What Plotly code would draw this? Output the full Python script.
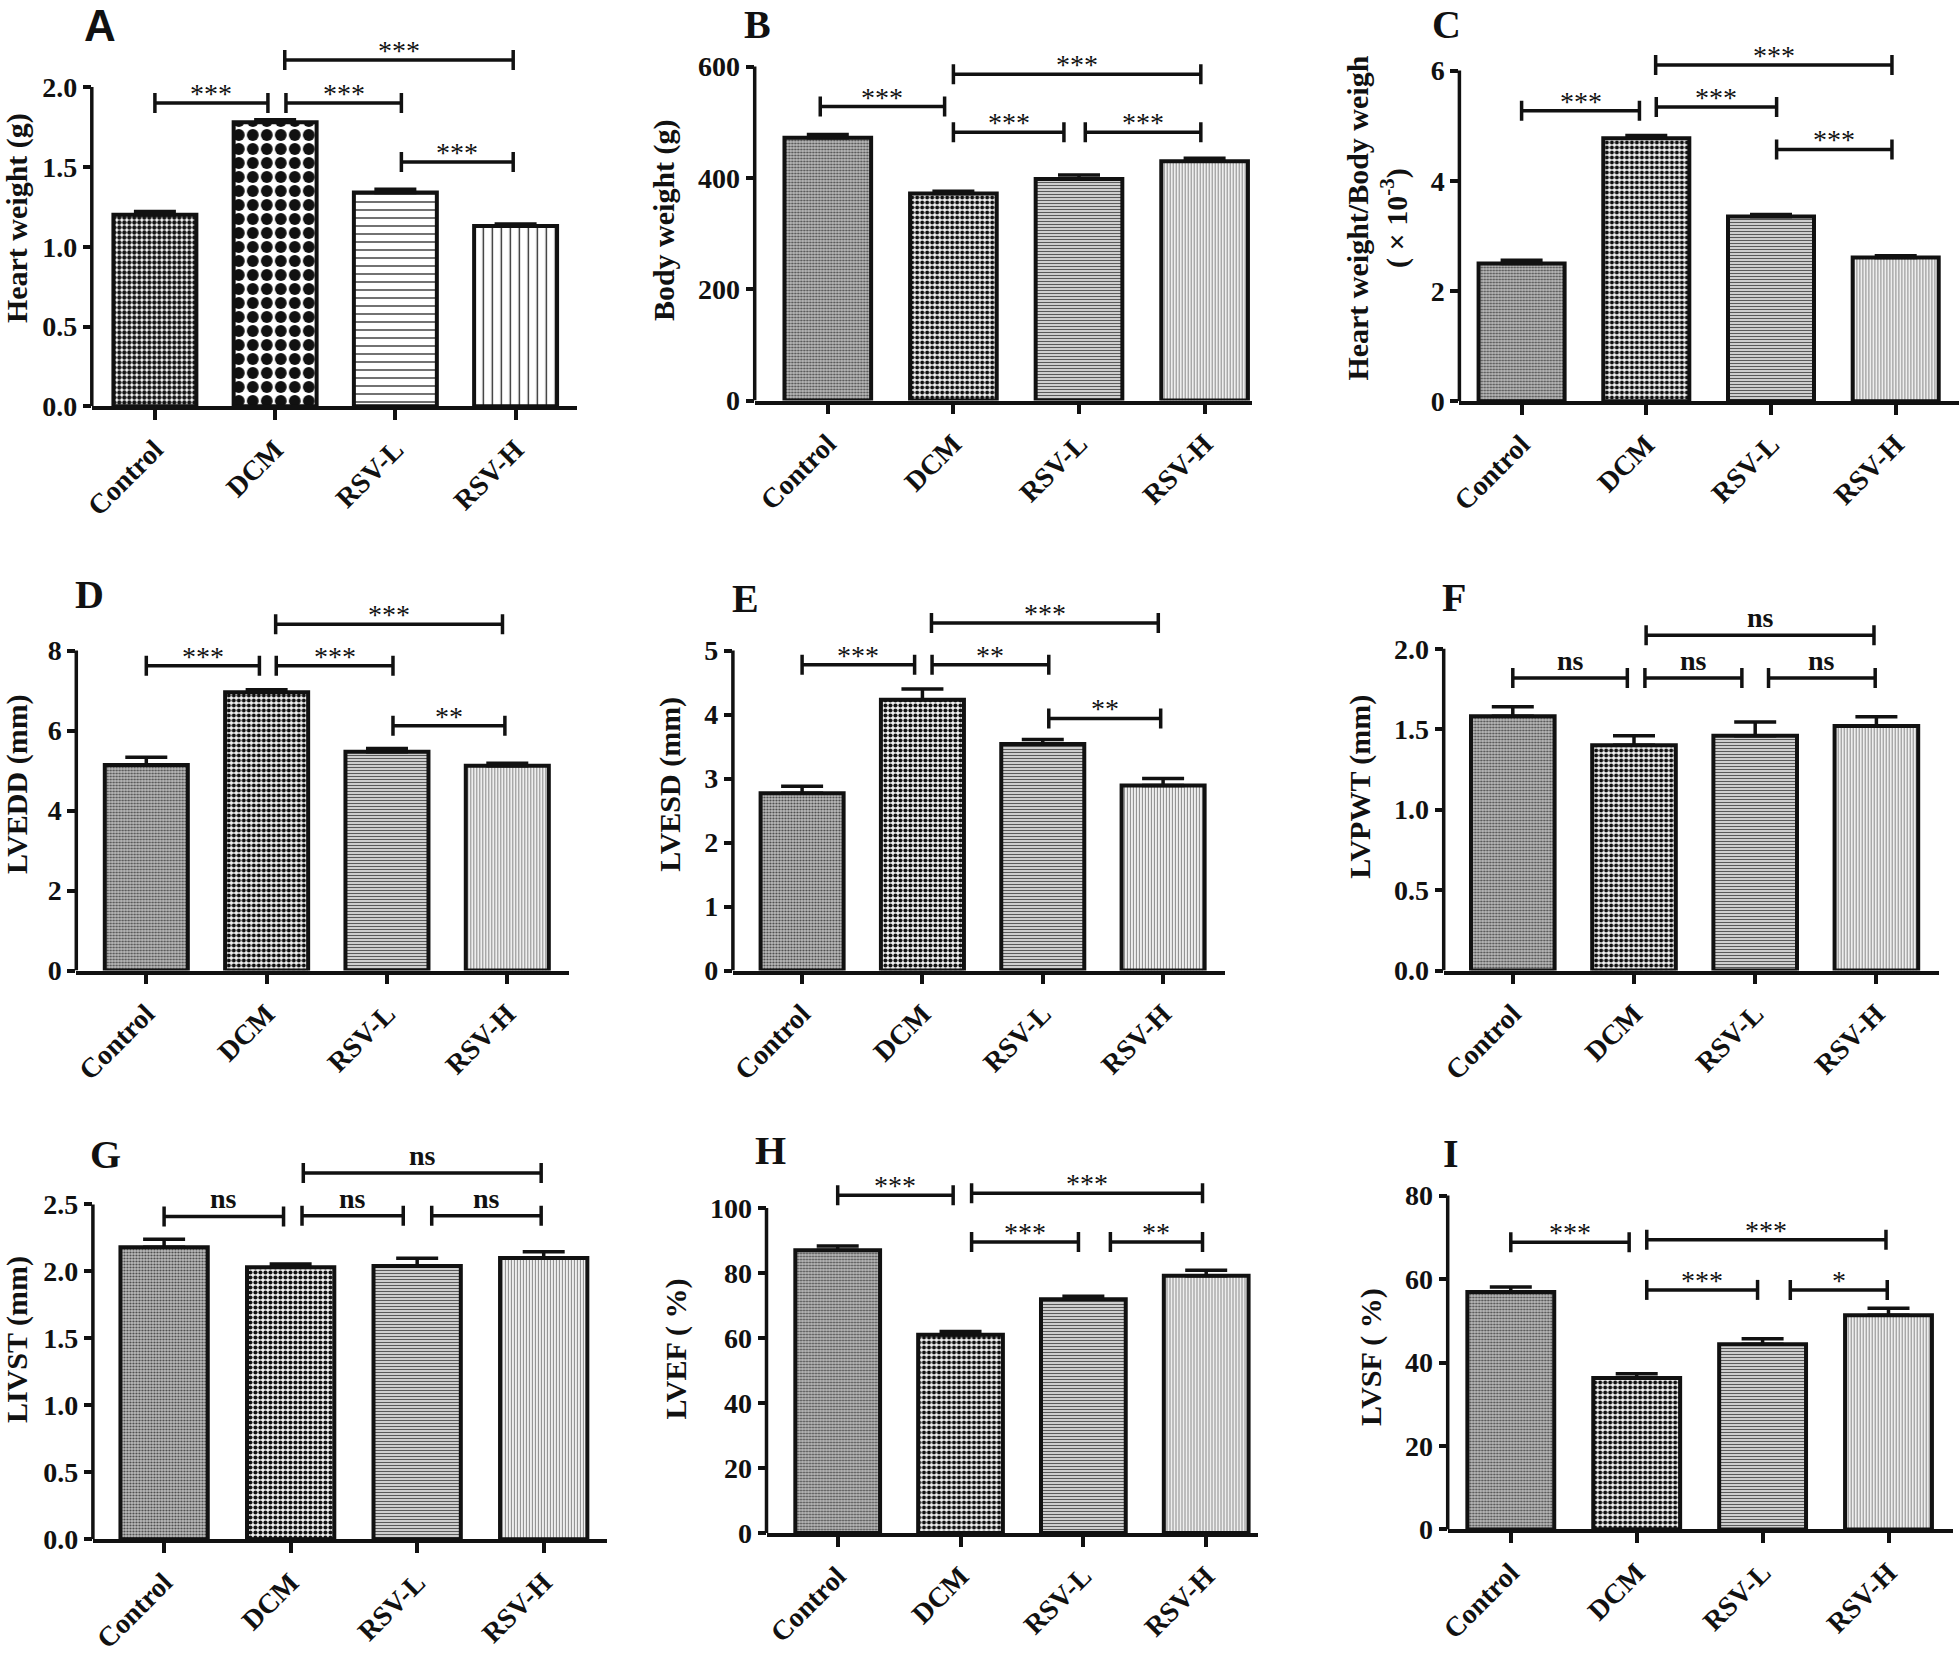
import plotly.graph_objects as go

W, H = 1960, 1658

# ---------------- data ----------------
categories = ["Control", "DCM", "RSV-L", "RSV-H"]

heart_weight = [1.20, 1.78, 1.34, 1.13]
heart_weight_err = [0.02, 0.015, 0.02, 0.012]
body_weight = [472, 372, 398, 430]
body_weight_err = [6, 4, 7, 5]
hw_bw_ratio = [2.50, 4.77, 3.35, 2.61]
hw_bw_ratio_err = [0.06, 0.05, 0.04, 0.03]
lvedd = [5.14, 6.96, 5.47, 5.12]
lvedd_err = [0.19, 0.06, 0.08, 0.06]
lvesd = [2.77, 4.23, 3.54, 2.89]
lvesd_err = [0.11, 0.17, 0.07, 0.11]
lvpwt = [1.58, 1.40, 1.46, 1.52]
lvpwt_err = [0.06, 0.06, 0.085, 0.058]
livst = [2.18, 2.03, 2.04, 2.10]
livst_err = [0.06, 0.025, 0.057, 0.047]
lvef = [87.0, 61.0, 71.9, 79.1]
lvef_err = [1.3, 1.0, 0.9, 1.7]
lvsf = [56.9, 36.3, 44.4, 51.3]
lvsf_err = [1.2, 1.0, 1.3, 1.7]

# y tick values
ticks_a = [0, 0.5, 1.0, 1.5, 2.0]
ticks_b = [0, 200, 400, 600]
ticks_c = [0, 2, 4, 6]
ticks_d = [0, 2, 4, 6, 8]
ticks_e = [0, 1, 2, 3, 4, 5]
ticks_f = [0, 0.5, 1.0, 1.5, 2.0]
ticks_g = [0, 0.5, 1.0, 1.5, 2.0, 2.5]
ticks_h = [0, 20, 40, 60, 80, 100]
ticks_i = [0, 20, 40, 60, 80]

# significance brackets: (from category pos, to category pos, level, label)
sig_a = [(0, 0.94, 1.90, "***"), (1.09, 2.05, 1.90, "***"), (2.05, 2.98, 1.53, "***"), (1.08, 2.98, 2.17, "***")]
sig_b = [(-0.06, 0.93, 528, "***"), (1.0, 1.88, 482, "***"), (2.05, 2.97, 482, "***"), (1.0, 2.97, 586, "***")]
sig_c = [(0, 0.945, 5.27, "***"), (1.08, 2.045, 5.34, "***"), (2.045, 2.97, 4.57, "***"), (1.075, 2.97, 6.10, "***")]
sig_d = [(0, 0.94, 7.62, "***"), (1.08, 2.05, 7.62, "***"), (2.05, 2.98, 6.12, "**"), (1.075, 2.96, 8.66, "***")]
sig_e = [(0, 0.935, 4.78, "***"), (1.08, 2.05, 4.78, "**"), (2.05, 2.98, 3.94, "**"), (1.075, 2.96, 5.43, "***")]
sig_f = [(0, 0.945, 1.818, "ns"), (1.09, 1.89, 1.818, "ns"), (2.11, 2.99, 1.818, "ns"), (1.10, 2.98, 2.085, "ns")]
sig_g = [(0, 0.944, 2.41, "ns"), (1.09, 1.89, 2.416, "ns"), (2.115, 2.98, 2.416, "ns"), (1.10, 2.98, 2.735, "ns")]
sig_h = [(0, 0.94, 103.9, "***"), (1.09, 1.96, 89.5, "***"), (2.22, 2.97, 89.5, "**"), (1.09, 2.97, 104.5, "***")]
sig_i = [(0, 0.94, 68.8, "***"), (1.08, 1.96, 57.4, "***"), (2.22, 2.99, 57.4, "*"), (1.08, 2.98, 69.4, "***")]

# ---------------- styles / layout ----------------
SERIF = "Liberation Serif"
INK = "#111111"

# per category: (shape, size, solidity, fg, bg)
style_a = [(".", 5, 0.6, "#151515", "#ffffff"),
           (".", 14, 0.56, "#111111", "#ffffff"),
           ("-", 8, 0.16, "#222222", "#ffffff"),
           ("|", 9, 0.15, "#222222", "#ffffff")]
style_std = [(".", 3, 0.4, "#4a4a4a", "#bcbcbc"),
             (".", 5, 0.52, "#111111", "#f2f2f2"),
             ("-", 3, 0.45, "#5a5a5a", "#e6e6e6"),
             ("|", 3, 0.38, "#8a8a8a", "#f6f6f6")]

# per-panel pixel frame: axis-left x, axis-end x, first tick x, last tick x, zero y, max-tick y, top y
panels = [
    dict(letter="A", lfont="Liberation Sans", lsize=44, lpos=(100, 26, "middle"), vals=heart_weight,
         err=heart_weight_err, ticks=ticks_a, fmt=".1f", sig=sig_a, title="Heart weight (g)", style=style_a,
         frame=(91.8, 576.6, 154.9, 515.6, 406.3, 87.1, 30)),
    dict(letter="B", lfont=SERIF, lsize=40, lpos=(757.6, 0, "top"), vals=body_weight, err=body_weight_err,
         ticks=ticks_b, fmt="d", sig=sig_b, title="Body weight (g)", style=style_std,
         frame=(754.7, 1252, 827.8, 1204.6, 400.5, 66.5, 40)),
    dict(letter="C", lfont=SERIF, lsize=40, lpos=(1446.5, 0, "top"), vals=hw_bw_ratio, err=hw_bw_ratio_err,
         ticks=ticks_c, fmt="d", sig=sig_c, title="Heart weight/Body weigh<br>( \u00d7 10<sup>-3</sup>)",
         style=style_std, frame=(1459.4, 1959, 1521.6, 1895.7, 401.2, 70.6, 35)),
    dict(letter="D", lfont=SERIF, lsize=40, lpos=(89.4, 594.5, "middle"), vals=lvedd, err=lvedd_err,
         ticks=ticks_d, fmt="d", sig=sig_d, title="LVEDD (mm)", style=style_std,
         frame=(76.3, 569.4, 146.3, 507.3, 970.5, 650.6, 598)),
    dict(letter="E", lfont=SERIF, lsize=40, lpos=(745.8, 598, "middle"), vals=lvesd, err=lvesd_err,
         ticks=ticks_e, fmt="d", sig=sig_e, title="LVESD (mm)", style=style_std,
         frame=(732.9, 1225.2, 802.1, 1163.1, 970.5, 650.6, 598)),
    dict(letter="F", lfont=SERIF, lsize=40, lpos=(1453.5, 597, "middle"), vals=lvpwt, err=lvpwt_err,
         ticks=ticks_f, fmt=".1f", sig=sig_f, title="LVPWT (mm)", style=style_std,
         frame=(1443.7, 1938.7, 1512.8, 1876.4, 970.5, 648.8, 603)),
    dict(letter="G", lfont=SERIF, lsize=40, lpos=(105.8, 1154, "middle"), vals=livst, err=livst_err,
         ticks=ticks_g, fmt=".1f", sig=sig_g, title="LIVST (mm)", style=style_std,
         frame=(92.9, 607, 164.1, 543.7, 1539.2, 1204.4, 1140)),
    dict(letter="H", lfont=SERIF, lsize=40, lpos=(770.5, 1150, "middle"), vals=lvef, err=lvef_err,
         ticks=ticks_h, fmt="d", sig=sig_h, title="LVEF ( %)", style=style_std,
         frame=(766.5, 1258, 837.7, 1206.2, 1532.9, 1207.9, 1165)),
    dict(letter="I", lfont=SERIF, lsize=40, lpos=(1450.5, 1153.5, "middle"), vals=lvsf, err=lvsf_err,
         ticks=ticks_i, fmt="d", sig=sig_i, title="LVSF ( %)", style=style_std,
         frame=(1447.7, 1952.7, 1510.8, 1888.5, 1529.4, 1195.6, 1185)),
]

fig = go.Figure()
shapes, annotations = [], []
layout = dict(width=W, height=H, margin=dict(l=0, r=0, t=0, b=0, autoexpand=False),
              paper_bgcolor="white", plot_bgcolor="rgba(0,0,0,0)", showlegend=False)

xpos = list(range(len(categories)))

for k, p in enumerate(panels, start=1):
    sfx = "" if k == 1 else str(k)
    xa, ya = "x" + sfx, "y" + sfx
    axl, axe, t1, t4, y0px, ympx, toppx = p["frame"]
    step = (t4 - t1) / 3.0
    xr = [(axl - t1) / step, (axe - t1) / step]
    ymax = p["ticks"][-1]
    ytop = ymax * (y0px - toppx) / (y0px - ympx)

    for i, cat in enumerate(categories):
        shp, sz, sol, fg, bg = p["style"][i]
        fig.add_trace(go.Bar(
            x=[xpos[i]], y=[p["vals"][i]], width=0.69, xaxis=xa, yaxis=ya, name=cat,
            marker=dict(color=fg, line=dict(color=INK, width=4),
                        pattern=dict(shape=shp, size=sz, solidity=sol, fgcolor=fg, bgcolor=bg,
                                     fgopacity=1, fillmode="replace")),
            error_y=dict(type="data", symmetric=False, array=[p["err"][i]], arrayminus=[0],
                         color=INK, thickness=3.5, width=21),
            hoverinfo="skip"))

    layout["xaxis" + sfx] = dict(
        domain=[axl / W, axe / W], range=xr, anchor=ya, tickvals=xpos, ticktext=categories,
        tickangle=-45, tickfont=dict(family=SERIF, size=28, color=INK, weight="bold"),
        ticklabelstandoff=2, automargin=False,
        ticks="outside", ticklen=10, tickwidth=3.5, tickcolor=INK,
        showline=True, linewidth=3.5, linecolor=INK, showgrid=False, zeroline=False, fixedrange=True)
    layout["yaxis" + sfx] = dict(
        domain=[1 - y0px / H, 1 - toppx / H], range=[0, ytop], anchor=xa, tickvals=p["ticks"],
        tickformat=p["fmt"], tickfont=dict(family=SERIF, size=28, color=INK, weight="bold"),
        ticks="outside", ticklen=8, tickwidth=3.5, tickcolor=INK, automargin=False,
        showline=False, showgrid=False, zeroline=False, fixedrange=True,
        title=dict(text=p["title"], standoff=14,
                   font=dict(family=SERIF, size=30, color=INK, weight="bold")))

    # y axis spine, from 0 to the top tick
    shapes.append(dict(type="line", xref=xa + " domain", yref=ya, x0=0, x1=0, y0=0, y1=ymax,
                       line=dict(color=INK, width=3.5)))

    # significance brackets
    for a, b, lvl, lab in p["sig"]:
        shapes.append(dict(type="line", xref=xa, yref=ya, x0=a, x1=b, y0=lvl, y1=lvl,
                           line=dict(color=INK, width=3.5)))
        for xe in (a, b):
            shapes.append(dict(type="line", xref=xa, yref=ya, ysizemode="pixel", yanchor=lvl,
                               x0=xe, x1=xe, y0=-10, y1=10, line=dict(color=INK, width=3.5)))
        if lab == "ns":
            annotations.append(dict(x=(a + b) / 2, y=lvl, xref=xa, yref=ya, text=lab, showarrow=False,
                                    yanchor="bottom", yshift=0,
                                    font=dict(family=SERIF, size=28, color=INK, weight="bold")))
        else:
            annotations.append(dict(x=(a + b) / 2, y=lvl, xref=xa, yref=ya, text=lab, showarrow=False,
                                    yanchor="bottom", yshift=-8,
                                    font=dict(family=SERIF, size=28, color=INK)))

    # panel letter
    lx, ly, lanchor = p["lpos"]
    annotations.append(dict(x=lx / W, y=1 - ly / H, xref="paper", yref="paper", text=p["letter"],
                            showarrow=False, xanchor="center", yanchor=lanchor,
                            font=dict(family=p["lfont"], size=p["lsize"], color=INK, weight="bold")))

layout["shapes"] = shapes
layout["annotations"] = annotations
fig.update_layout(**layout)
fig.write_html("out.html", config={"displayModeBar": False},
               post_script="document.body.style.margin='0px';document.body.style.overflow='hidden';")
